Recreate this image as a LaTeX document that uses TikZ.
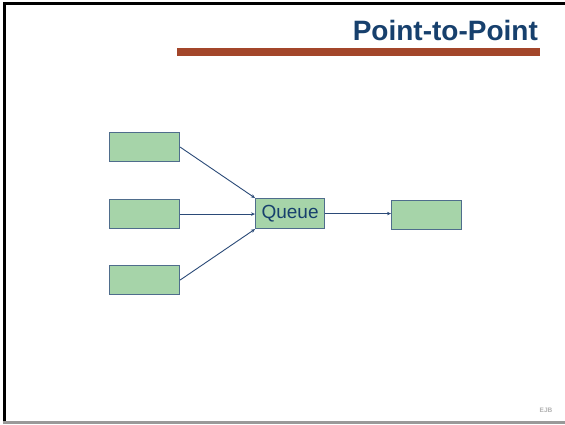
\documentclass[tikz,border=0pt]{standalone}
\usepackage{fontspec}
\setmainfont{Liberation Sans}
\usetikzlibrary{arrows.meta}
\definecolor{titleblue}{HTML}{17406D}
\definecolor{barbrown}{HTML}{A3462A}
\definecolor{boxgreen}{HTML}{A6D4A9}
\definecolor{boxedge}{HTML}{4F6D8C}
\definecolor{linkblue}{HTML}{2B4A78}
\begin{document}
\begin{tikzpicture}[x=1pt,y=-1pt,
  procbox/.style={draw=boxedge,fill=boxgreen,line width=1.1pt,minimum width=70pt,minimum height=29pt,inner sep=0pt,anchor=north west},
  link/.style={draw=linkblue,line width=0.9pt,-{Stealth[length=4pt,width=3.5pt]}}]
  \useasboundingbox (0,0) rectangle (565,424);
  \fill[white] (0,0) rectangle (565,424);
  % slide frame
  \fill[black] (3,2) rectangle (565,4.5);
  \fill[black] (3,2) rectangle (6,424);
  \fill[gray!80] (3,421) rectangle (565,424);
  % title and rule
  \node[anchor=base east,text=titleblue,font=\bfseries\fontsize{28}{30}\selectfont,inner sep=0pt] (title) at (538,40) {Point-to-Point};
  \fill[barbrown] (177,47.5) rectangle (540,56);
  % producers, queue and consumer
  \node[procbox] (p1) at (109,132) {};
  \node[procbox] (p2) at (109,199) {};
  \node[procbox] (p3) at (109,265) {};
  \node[procbox,minimum width=69pt,minimum height=30pt,font=\fontsize{19}{21}\selectfont,text=titleblue] (queue) at (255,198) {Queue};
  \node[procbox] (c1) at (391,200) {};
  % message flow
  \draw[link] (p1.east) -- (queue.north west);
  \draw[link] (p2.east) -- (p2.east -| queue.west);
  \draw[link] (p3.east) -- (queue.south west);
  \draw[link] (queue.east) -- (queue.east -| c1.west);
  % footer
  \node[text=gray!60,font=\bfseries\fontsize{6.5}{7}\selectfont,inner sep=0pt] (ejb) at (546,410) {EJB};
\end{tikzpicture}
\end{document}
